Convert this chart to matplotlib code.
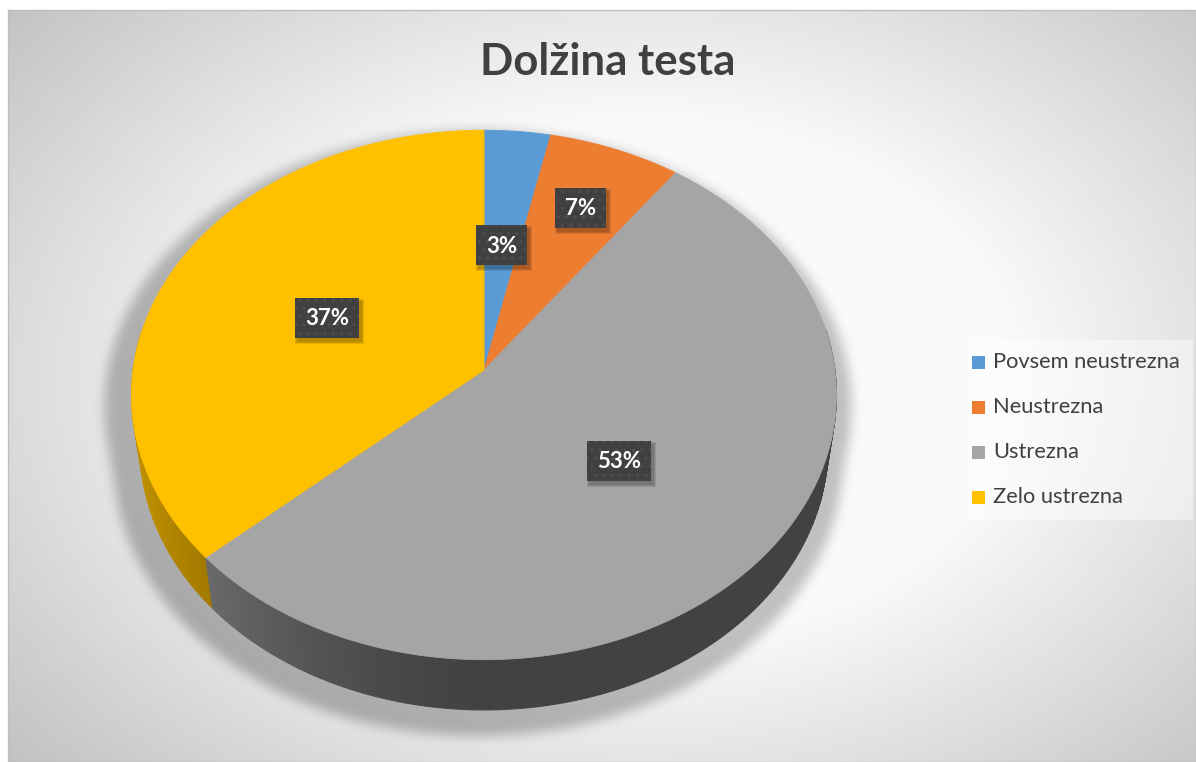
import numpy as np
import matplotlib
matplotlib.use("Agg")
import matplotlib.pyplot as plt
from matplotlib.patches import Polygon, Rectangle
from matplotlib.path import Path

# ---------------- data ----------------
title = "Dolžina testa"
categories = ["Povsem neustrezna", "Neustrezna", "Ustrezna", "Zelo ustrezna"]
counts = [1, 2, 16, 11]
colors = ["#5B9BD5", "#ED7D31", "#A5A5A5", "#FFC000"]

# ---------------- layout / style ----------------
W, H = 1196, 762
CX, CY = 484.0, 370.0          # projected pie centre (px)
F, D = 2470.0, 7.04            # perspective focal / distance
PHI = np.deg2rad(48.4)         # camera elevation
THK = 0.231                    # pie thickness (radius units)
label_frac = [0.5, 0.72, 0.5, 0.5]
FONT = ["Lato", "DejaVu Sans"]
TXT = "#404040"

sP, cP = np.sin(PHI), np.cos(PHI)


def project(x, y, z):
    x = np.asarray(x, float); y = np.asarray(y, float); z = np.asarray(z, float)
    depth = D - y * sP + z * cP
    return CX + F * x / depth, CY - F * (y * cP + z * sP) / depth


def box_blur(a, r, axis):
    pad = [(0, 0), (0, 0)]
    pad[axis] = (r + 1, r)
    p = np.pad(a, pad, mode="edge")
    c = np.cumsum(p, axis=axis)
    n = a.shape[axis]
    if axis == 0:
        return (c[2 * r + 1:2 * r + 1 + n] - c[:n]) / (2 * r + 1)
    return (c[:, 2 * r + 1:2 * r + 1 + n] - c[:, :n]) / (2 * r + 1)


def blur(a, r):
    for _ in range(3):
        a = box_blur(a, r, 0)
        a = box_blur(a, r, 1)
    return a


def hull(pts):
    pts = sorted(map(tuple, pts))
    def cross(o, a, b):
        return (a[0] - o[0]) * (b[1] - o[1]) - (a[1] - o[1]) * (b[0] - o[0])
    lower, upper = [], []
    for p in pts:
        while len(lower) >= 2 and cross(lower[-2], lower[-1], p) <= 0:
            lower.pop()
        lower.append(p)
    for p in reversed(pts):
        while len(upper) >= 2 and cross(upper[-2], upper[-1], p) <= 0:
            upper.pop()
        upper.append(p)
    return np.array(lower[:-1] + upper[:-1])


fig = plt.figure(figsize=(W / 100, H / 100), dpi=100)
fig.patch.set_facecolor("white")
ax = fig.add_axes([0, 0, 1, 1])
ax.set_xlim(0, W)
ax.set_ylim(H, 0)
ax.axis("off")

# ---------------- background with light pool and pie shadow ----------------
gx, gy = np.meshgrid(np.arange(W) + 0.5, np.arange(H) + 0.5)
r = np.sqrt(((gx - 640) / 620.0) ** 2 + ((gy - 380) / 430.0) ** 2)
bg = 250 - 75 * np.clip(r - 0.6, 0, None)

t_all = np.deg2rad(np.linspace(0, 360, 361))
tx, ty = project(np.sin(t_all), 0, np.cos(t_all))
bx, by = project(np.sin(t_all), -THK, np.cos(t_all))
sil = hull(np.vstack([np.column_stack([tx, ty]), np.column_stack([bx, by])]))
shadow_pts = np.column_stack([CX - 6 + (sil[:, 0] - CX) * 1.06, 130 + (sil[:, 1] - 130) * 1.045])
mask = Path(shadow_pts).contains_points(np.column_stack([gx.ravel(), gy.ravel()])).reshape(H, W)
sh = blur(mask.astype(float), 5)
bg = bg - 58 * sh
bg = np.clip(bg, 0, 255)
rgb = np.repeat((bg / 255.0)[:, :, None], 3, axis=2)
rgb[:10, :, :] = 1.0
rgb[:, :8, :] = 1.0
ax.imshow(rgb, extent=(0, W, H, 0), zorder=0, interpolation="bilinear")
ax.plot([8, W, W, 8, 8], [10, 10, H, H, 10], color="#BFBFBF", lw=1.0, zorder=0.5)

# ---------------- pie geometry ----------------
total = float(sum(counts))
fracs = np.array(counts) / total
bounds = np.concatenate([[0], np.cumsum(fracs)]) * 360.0

# sides
quads = []
for i in range(len(counts)):
    a0, a1 = bounds[i], bounds[i + 1]
    n = max(2, int(np.ceil(a1 - a0)) + 1)
    th = np.deg2rad(np.linspace(a0, a1, n))
    base = np.array(matplotlib.colors.to_rgb(colors[i]))
    for k in range(n - 1):
        tm = 0.5 * (th[k] + th[k + 1])
        if np.cos(tm) > 0.15:
            continue
        xs = np.sin([th[k], th[k + 1], th[k + 1], th[k]])
        zs = np.cos([th[k], th[k + 1], th[k + 1], th[k]])
        ys = [0, 0, -THK, -THK]
        px, py = project(xs, ys, zs)
        f = 0.40 + 0.37 * max(0.0, -np.sin(tm)) ** 1.5
        col = np.clip(base * f, 0, 1)
        quads.append((np.cos(tm), np.column_stack([px, py]), col))
quads.sort(key=lambda q: -q[0])
for _, poly, col in quads:
    ax.add_patch(Polygon(poly, closed=True, fc=col, ec=col, lw=0.8, zorder=2))

# top faces
for i in range(len(counts)):
    a0, a1 = bounds[i], bounds[i + 1]
    n = max(3, int(np.ceil(a1 - a0)) * 2 + 1)
    th = np.deg2rad(np.linspace(a0, a1, n))
    px, py = project(np.sin(th), 0, np.cos(th))
    poly = np.vstack([[CX, CY], np.column_stack([px, py])])
    ax.add_patch(Polygon(poly, closed=True, fc=colors[i], ec=colors[i], lw=0.6, zorder=3))

# ---------------- data labels ----------------
renderer = fig.canvas.get_renderer()
probe = ax.text(0, 0, "53%", fontsize=16, fontweight="bold", family=FONT)
lab_fs = 16 * 44.0 / probe.get_window_extent(renderer).width
probe.remove()
for i in range(len(counts)):
    mid = np.deg2rad(0.5 * (bounds[i] + bounds[i + 1]))
    lx, ly = project(label_frac[i] * np.sin(mid), 0, label_frac[i] * np.cos(mid))
    lx, ly = float(lx), float(ly)
    txt = f"{round(100 * counts[i] / total)}%"
    t = ax.text(lx, ly + 1, txt, ha="center", va="center", fontsize=lab_fs,
                fontweight="bold", family=FONT, color="white", zorder=7)
    w = t.get_window_extent(renderer).width
    bw, bh = w + 20, 40
    for k, al in enumerate([0.10, 0.10, 0.10]):
        ax.add_patch(Rectangle((lx - bw / 2 + 2 - k, ly - bh / 2 + 3 - k), bw + 2 * k + 1, bh + 2 * k + 1,
                               fc="black", ec="none", alpha=al, zorder=5))
    ax.add_patch(Rectangle((lx - bw / 2, ly - bh / 2), bw, bh, fc="#404040", ec="#4E4E4E",
                           lw=0, hatch="..", zorder=6))

# ---------------- title ----------------
tt = ax.text(608, 62, title, ha="center", va="center", fontsize=28, fontweight="bold",
             family=FONT, color=TXT, zorder=8)
tw = tt.get_window_extent(renderer).width
tt.set_fontsize(28 * 255.0 / tw)

# ---------------- legend ----------------
ax.add_patch(Rectangle((968, 340), 225, 180, fc="white", ec="none", alpha=0.45, zorder=4))
fs = 14
for i, name in enumerate(categories):
    yy = 362 + i * 45
    ax.add_patch(Rectangle((972, yy - 6.5), 13, 13, fc=colors[i], ec="none", zorder=5))
    lt = ax.text(993, yy, name, ha="left", va="center", fontsize=fs, family=FONT,
                 color=TXT, zorder=5)
    if i == 0:
        lw_ = lt.get_window_extent(renderer).width
        fs = 14 * 188.0 / lw_
        lt.set_fontsize(fs)

fig.savefig("out.png", dpi=100, facecolor="white")
